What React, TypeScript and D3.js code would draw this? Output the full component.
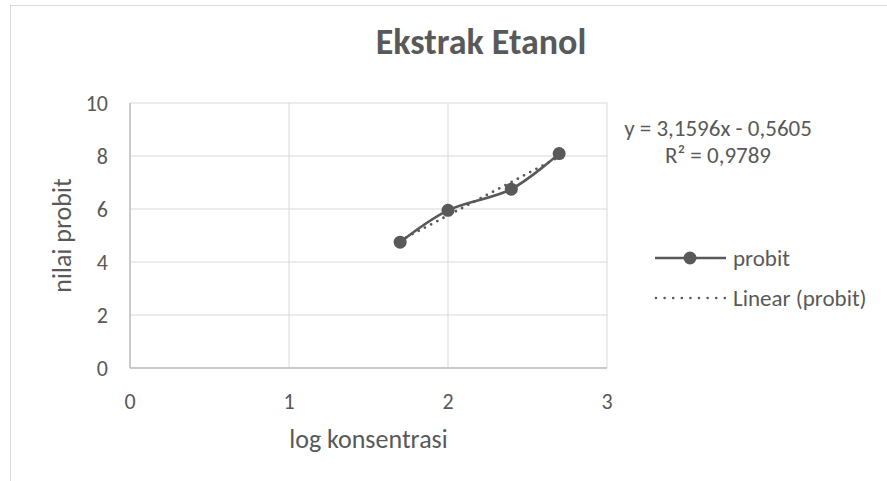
import React, { useEffect } from "react"
import * as d3 from "d3"

// data
const logKonsentrasi = [1.699, 2.0, 2.398, 2.699]
const nilaiProbit = [4.75, 5.95, 6.75, 8.09]
const xTicks = [0, 1, 2, 3]
const yTicks = [0, 2, 4, 6, 8, 10]
const trendSlope = 3.1596
const trendIntercept = -0.5605
const equationText = "y = 3,1596x - 0,5605"
const r2Text = "R² = 0,9789"

const width = 887
const height = 481
const margin = { top: 103, right: 280, bottom: 113, left: 130 }
const grey = "#595959"
const gridColor = "#d9d9d9"
const font = "Carlito, Calibri, Lato, sans-serif"

export default function App() {
  useEffect(() => {
    document.body.style.margin = "0"
  }, [])

  const x = d3.scaleLinear().domain([0, 3]).range([margin.left, width - margin.right])
  const y = d3.scaleLinear().domain([0, 10]).range([height - margin.bottom, margin.top])

  const points = logKonsentrasi.map((v, i) => ({ x: v, y: nilaiProbit[i] }))

  const line = d3
    .line<{ x: number; y: number }>()
    .x(d => x(d.x))
    .y(d => y(d.y))
    .curve(d3.curveCatmullRom.alpha(0.5))

  const xMin = d3.min(logKonsentrasi) as number
  const xMax = d3.max(logKonsentrasi) as number
  const trend = [
    { x: xMin, y: trendSlope * xMin + trendIntercept },
    { x: xMax, y: trendSlope * xMax + trendIntercept },
  ]
  const straight = d3
    .line<{ x: number; y: number }>()
    .x(d => x(d.x))
    .y(d => y(d.y))

  const [x0, x1] = x.range()
  const [y0, y1] = y.range()

  return (
    <svg width={width} height={height} style={{ display: "block", fontFamily: font }}>
      <rect x={0} y={0} width={width} height={height} fill="#fff" />
      {/* chart area border, only left and top are inside the picture */}
      <rect x={10.5} y={5.5} width={width + 20} height={height + 20} fill="none" stroke={gridColor} />

      <text x={481} y={54} textAnchor="middle" fontSize={36} fontWeight="bold" fill={grey}>
        Ekstrak Etanol
      </text>

      {/* gridlines */}
      {yTicks.map(t => (
        <line key={"gy" + t} x1={x0} x2={x1} y1={y(t)} y2={y(t)} stroke={gridColor} strokeWidth={1} />
      ))}
      {xTicks.map(t => (
        <line key={"gx" + t} x1={x(t)} x2={x(t)} y1={y1} y2={y0} stroke={gridColor} strokeWidth={1} />
      ))}
      {/* axis lines */}
      <line x1={x0} x2={x1} y1={y(0)} y2={y(0)} stroke="#bfbfbf" strokeWidth={1.5} />
      <line x1={x(0)} x2={x(0)} y1={y1} y2={y0} stroke="#bfbfbf" strokeWidth={1.5} />

      {yTicks.map(t => (
        <text key={"ty" + t} x={x0 - 22} y={y(t)} dy="0.35em" textAnchor="end" fontSize={22} fill={grey}>
          {t}
        </text>
      ))}
      {xTicks.map(t => (
        <text key={"tx" + t} x={x(t)} y={y0 + 33} dy="0.35em" textAnchor="middle" fontSize={22} fill={grey}>
          {t}
        </text>
      ))}

      <text x={(x0 + x1) / 2} y={439} dy="0.35em" textAnchor="middle" fontSize={26} fill={grey}>
        log konsentrasi
      </text>
      <text
        transform={`translate(62,${(y0 + y1) / 2}) rotate(-90)`}
        dy="0.35em"
        textAnchor="middle"
        fontSize={26}
        fill={grey}
      >
        nilai probit
      </text>

      {/* series */}
      <path d={line(points) || ""} fill="none" stroke={grey} strokeWidth={2.6} strokeLinejoin="round" />
      {points.map((p, i) => (
        <circle key={"p" + i} cx={x(p.x)} cy={y(p.y)} r={6.5} fill={grey} />
      ))}
      <path
        d={straight(trend) || ""}
        fill="none"
        stroke={grey}
        strokeWidth={2.8}
        strokeDasharray="0 7"
        strokeLinecap="round"
      />

      {/* trendline equation */}
      <text x={718} y={128} dy="0.35em" textAnchor="middle" fontSize={23} fill={grey}>
        {equationText}
      </text>
      <text x={718} y={155} dy="0.35em" textAnchor="middle" fontSize={23} fill={grey}>
        {r2Text}
      </text>

      {/* legend */}
      <line x1={655} x2={726} y1={258} y2={258} stroke={grey} strokeWidth={2.6} />
      <circle cx={690} cy={258} r={6.5} fill={grey} />
      <text x={733} y={258} dy="0.35em" fontSize={23} fill={grey}>
        probit
      </text>
      <line
        x1={656}
        x2={725}
        y1={298}
        y2={298}
        stroke={grey}
        strokeWidth={2.6}
        strokeDasharray="0 8.6"
        strokeLinecap="round"
      />
      <text x={733} y={298} dy="0.35em" fontSize={23} fill={grey}>
        Linear (probit)
      </text>
    </svg>
  )
}
